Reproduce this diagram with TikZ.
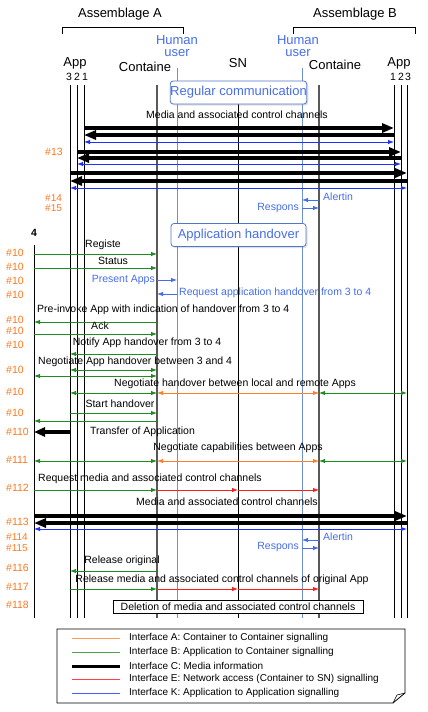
\documentclass[tikz,border=0pt]{standalone}
\usepackage{fontspec}
\setmainfont{Liberation Sans}
\usetikzlibrary{arrows.meta,shadows}
\definecolor{ifA}{RGB}{255,128,40}
\definecolor{ifB}{RGB}{30,140,30}
\definecolor{ifE}{RGB}{255,30,30}
\definecolor{ifK}{RGB}{30,50,255}
\definecolor{lblue}{RGB}{70,110,235}
\definecolor{hline}{RGB}{110,145,210}
\definecolor{boxb}{RGB}{80,120,200}
\definecolor{numor}{RGB}{255,120,30}
\newcommand{\mymsg}[4]{\draw[#4] (#2 |- 0,#1) -- (#3 |- 0,#1);}
\begin{document}
\begin{tikzpicture}[x=1pt,y=-1pt,
  lifeline/.style={draw=black, line width=0.8pt},
  contline/.style={draw=black!65, line width=1.2pt},
  humline/.style={draw=hline, line width=0.8pt},
  tipS/.style={-{Latex[length=6pt,width=4.5pt]}},
  tipD/.style={{Latex[length=6pt,width=4.5pt]}-{Latex[length=6pt,width=4.5pt]}},
  sigB/.style={ifB, line width=0.9pt, tipS},
  sigBd/.style={ifB, line width=0.9pt, tipD},
  sigA/.style={ifA, line width=0.9pt, tipD},
  sigE/.style={ifE, line width=0.9pt, tipS},
  sigK/.style={ifK, line width=0.9pt, tipD},
  sigL/.style={lblue, line width=0.9pt, tipS},
  media/.style={black, line width=3.6pt, -{Triangle[length=12pt,width=9pt]}},
  msg/.style={font=\fontsize{10.5}{12}\selectfont, inner sep=0pt},
  bmsg/.style={msg, text=lblue},
  hdr/.style={font=\fontsize{13}{15}\selectfont, inner sep=0pt},
  hum/.style={hdr, text=lblue, align=center},
  idx/.style={font=\fontsize{10.5}{10}\selectfont, inner sep=0pt},
  num/.style={msg, text=numor, anchor=west},
  snum/.style={font=\fontsize{10}{10}\selectfont, inner sep=0pt, text=numor, anchor=west},
  phase/.style={draw=boxb, fill=white, rounded corners=3pt, line width=0.8pt, text=lblue,
    font=\fontsize{13}{15}\selectfont, minimum width=135pt, minimum height=23pt, inner sep=0pt,
    drop shadow={opacity=0.25, shadow xshift=1.5pt, shadow yshift=-1.5pt}},
  legtxt/.style={font=\fontsize{10}{12}\selectfont, inner sep=0pt, anchor=west}
]
\useasboundingbox[fill=white] (0,0) rectangle (428,712);

% lifeline x positions
\coordinate (A4) at (34,0);
\coordinate (A3) at (70,0);
\coordinate (A2) at (77,0);
\coordinate (A1) at (84,0);
\coordinate (CA) at (157,0);
\coordinate (HA) at (177,0);
\coordinate (SN) at (238,0);
\coordinate (HB) at (302,0);
\coordinate (CB) at (319,0);
\coordinate (B1) at (394,0);
\coordinate (B2) at (401,0);
\coordinate (B3) at (407,0);

% headers
\node[hdr] (asmA) at (120,14) {Assemblage A};
\node[hdr] (asmB) at (355,14) {Assemblage B};
\draw[line width=0.8pt] (62,34) -- (62,27) -- (183,27) -- (183,34);
\draw[line width=0.8pt] (293,34) -- (293,27) -- (415,27) -- (415,34);
\node[hum] (humA) at (177,46) {Human\\[-3pt]user};
\node[hum] (humB) at (298,46) {Human\\[-3pt]user};
\node[hdr] (appA) at (75,63) {App};
\node[idx] (n3a) at (69,77) {3};
\node[idx] (n2a) at (77,77) {2};
\node[idx] (n1a) at (85,77) {1};
\node[hdr] (contA) at (145,67) {Containe};
\node[hdr] (snh) at (238,63) {SN};
\node[hdr] (contB) at (335,65) {Containe};
\node[hdr] (appB) at (399,63) {App};
\node[idx] (n1b) at (393,77) {1};
\node[idx] (n2b) at (401,77) {2};
\node[idx] (n3b) at (408,77) {3};
\node[font=\fontsize{10.5}{12}\selectfont\bfseries, inner sep=0pt] (n4) at (34,233) {4};

% lifelines
\foreach \p in {A3,A2,A1,B1,B2,B3,SN} {\draw[lifeline] (\p |- 0,85) -- (\p |- 0,618);}
\draw[lifeline] (A4 |- 0,245) -- (A4 |- 0,618);
\draw[contline] (CA |- 0,85) -- (CA |- 0,618);
\draw[contline] (CB |- 0,85) -- (CB |- 0,618);
\draw[humline] (HA |- 0,68) -- (HA |- 0,618);
\draw[humline] (HB |- 0,68) -- (HB |- 0,618);

% phase boxes
\node[phase] (regc) at (238.5,92.5) {Regular communication};
\node[phase] (apph) at (238.5,235) {Application handover};

% regular communication
\node[msg] (m1) at (237,115) {Media and associated control channels};
\mymsg{128}{A1}{B1}{media}
\mymsg{135}{B1}{A1}{media}
\mymsg{142}{A1}{B1}{sigK}
\node[num] (l13) at (45,152) {\#13};
\mymsg{152}{A2}{B2}{media}
\mymsg{158}{B2}{A2}{media}
\mymsg{164}{A2}{B2}{sigK}
\mymsg{173}{A3}{B3}{media}
\mymsg{181}{B3}{A3}{media}
\mymsg{188}{A3}{B3}{sigK}
\node[snum] (l14) at (45,198) {\#14};
\node[snum] (l15) at (45,208.5) {\#15};
\mymsg{200}{CB}{HB}{sigL}
\node[bmsg, anchor=west] (al1) at (323,197) {Alertin};
\mymsg{208}{HB}{CB}{sigL}
\node[bmsg, anchor=east] (rs1) at (299,208) {Respons};

% application handover
\node[msg] (t1) at (103,245) {Registe};
\mymsg{254}{A4}{CA}{sigB}
\node[num] (h1) at (6,253) {\#10};
\node[msg] (t2) at (113,261) {Status};
\mymsg{268}{A4}{CA}{sigB}
\node[num] (h2) at (6,267) {\#10};
\node[bmsg, anchor=east] (t3) at (155,280) {Present Apps};
\mymsg{280}{CA}{HA}{sigL}
\node[num] (h3) at (6,281) {\#10};
\mymsg{294}{HA}{CA}{sigL}
\node[bmsg, anchor=west] (t4) at (179,293) {Request application handover from 3 to 4};
\node[num] (h4) at (6,295) {\#10};
\node[msg, anchor=west] (t5) at (37,310) {Pre-invoke App with indication of handover from 3 to 4};
\mymsg{322}{CA}{A4}{sigB}
\node[num] (h5) at (6,320) {\#10};
\node[msg] (t6) at (100,326) {Ack};
\mymsg{334}{A4}{CA}{sigB}
\node[num] (h6) at (6,331) {\#10};
\node[msg] (t7) at (147,343) {Notify App handover from 3 to 4};
\mymsg{354}{CA}{A3}{sigB}
\node[num] (h7) at (6,345) {\#10};
\node[msg, anchor=west] (t8) at (38,362) {Negotiate App handover between 3 and 4};
\mymsg{370}{A3}{CA}{sigBd}
\mymsg{376}{A4}{CA}{sigBd}
\node[num] (h8) at (6,370) {\#10};
\node[msg] (t9) at (235,384) {Negotiate handover between local and remote Apps};
\mymsg{393}{A3}{CA}{sigBd}
\mymsg{393}{CA}{CB}{sigA}
\mymsg{393}{CB}{B3}{sigBd}
\node[num] (h9) at (6,392) {\#10};
\node[msg] (t10) at (120,404) {Start handover};
\mymsg{413}{A3}{CA}{sigB}
\mymsg{421}{CA}{A4}{sigB}
\node[num] (h10) at (6,413) {\#10};
\node[num] (h11) at (6,432) {\#110};
\draw[line width=3.6pt, -{Triangle[length=11pt,width=9pt]}] (A3 |- 0,432) -- (A4 |- 0,432);
\node[msg, anchor=west] (t11) at (90,432) {Transfer of Application};
\node[msg] (t12) at (238,448) {Negotiate capabilities between Apps};
\mymsg{461}{A4}{CA}{sigBd}
\mymsg{461}{CA}{CB}{sigA}
\mymsg{461}{CB}{B3}{sigBd}
\node[num] (h12) at (6,460) {\#111};
\node[msg, anchor=west] (t13) at (38,479) {Request media and associated control channels};
\mymsg{490}{A4}{CA}{sigB}
\mymsg{490}{CA}{SN}{sigE}
\mymsg{490}{SN}{CB}{sigE}
\node[num] (h13) at (6,488) {\#112};
\node[msg] (t14) at (227,502) {Media and associated control channels};
\mymsg{516}{A4}{B3}{media}
\mymsg{523}{B3}{A4}{media}
\mymsg{529}{A4}{B3}{sigK}
\node[num] (h14) at (6,522) {\#113};
\node[snum] (h15) at (6,537.5) {\#114};
\node[snum] (h16) at (6,548) {\#115};
\mymsg{540}{CB}{HB}{sigL}
\node[bmsg, anchor=west] (al2) at (323,537) {Alertin};
\mymsg{548}{HB}{CB}{sigL}
\node[bmsg, anchor=east] (rs2) at (299,547) {Respons};
\node[msg] (t17) at (122,561) {Release original};
\mymsg{571}{CA}{A3}{sigB}
\node[num] (h17) at (6,568) {\#116};
\node[msg] (t18) at (222,580) {Release media and associated control channels of original App};
\mymsg{589}{A3}{CA}{sigB}
\mymsg{589}{CA}{SN}{sigE}
\mymsg{589}{SN}{CB}{sigE}
\node[num] (h18) at (6,587) {\#117};
\node[num] (h19) at (6,605) {\#118};
\node[msg, draw, fill=white, line width=0.8pt, minimum width=250pt, minimum height=13pt] (del) at (238,606.5) {Deletion of media and associated control channels};

% legend
\draw[line width=0.8pt, fill=white] (57,629) -- (405,629) -- (405,693) -- (393,703) -- (57,703) -- cycle;
\draw[line width=0.6pt] (405,693) -- (397,695) -- (393,703);
\coordinate (g1a) at (72,638); \coordinate (g1b) at (120,638);
\coordinate (g2a) at (72,652); \coordinate (g2b) at (120,652);
\coordinate (g3a) at (72,666); \coordinate (g3b) at (120,666);
\coordinate (g4a) at (72,679); \coordinate (g4b) at (120,679);
\coordinate (g5a) at (72,693); \coordinate (g5b) at (120,693);
\draw[ifA!80, line width=0.9pt] (g1a) -- (g1b);
\draw[ifB!80, line width=0.9pt] (g2a) -- (g2b);
\draw[black, line width=3pt] (g3a) -- (g3b);
\draw[ifE!85, line width=0.9pt] (g4a) -- (g4b);
\draw[ifK!80, line width=0.9pt] (g5a) -- (g5b);
\node[legtxt] (k1) at (129,638) {Interface A: Container to Container signalling};
\node[legtxt] (k2) at (129,652) {Interface B: Application to Container signalling};
\node[legtxt] (k3) at (129,666) {Interface C: Media information};
\node[legtxt] (k4) at (129,679) {Interface E: Network access (Container to SN) signalling};
\node[legtxt] (k5) at (129,693) {Interface K: Application to Application signalling};
\end{tikzpicture}
\end{document}
